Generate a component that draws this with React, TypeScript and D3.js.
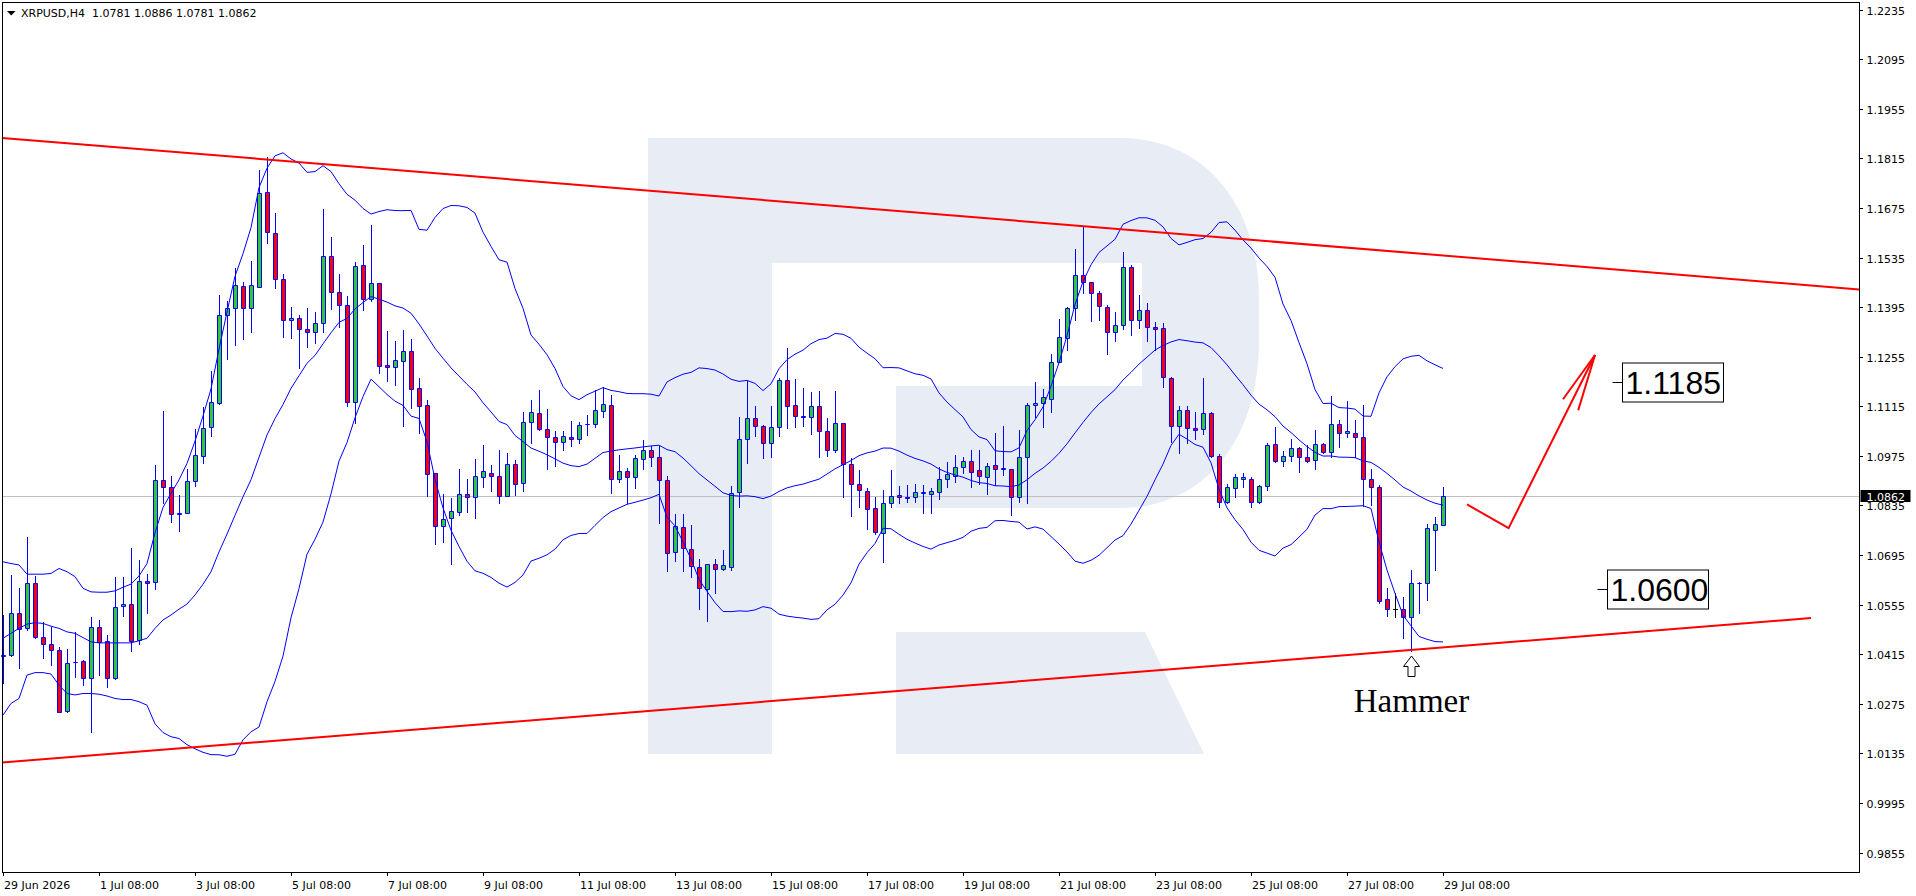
import React from "react";
import * as d3 from "d3";

// ---------- DATA (XRPUSD, H4) ----------
const opens = [
  1.0411,1.0414,1.0530,1.0488,1.0615,1.0464,1.0443,1.0426,1.0255,1.0392,
  1.0396,1.0349,1.0491,1.0452,1.0349,1.0551,1.0558,1.0455,1.0622,1.0618,
  1.0907,1.0886,1.0810,1.0815,1.0903,1.0976,1.1056,1.1125,1.1372,1.1394,
  1.1455,1.1394,1.1453,1.1720,1.1603,1.1474,1.1358,1.1363,1.1332,1.1324,
  1.1349,1.1539,1.1437,1.1401,1.1128,1.1514,1.1417,1.1462,1.1232,1.1225,
  1.1242,1.1271,1.1166,1.1119,1.0926,1.0778,1.0799,1.0817,1.0866,1.0858,
  1.0916,1.0927,1.0918,1.0863,1.0951,1.0899,1.1070,1.1095,1.1050,1.1027,
  1.1015,1.1027,1.1022,1.1064,1.1064,1.1103,1.1120,1.0909,1.0931,1.0914,
  1.0965,1.0993,1.0971,1.0907,1.0704,1.0773,1.0711,1.0662,1.0599,1.0669,
  1.0657,1.0662,1.0872,1.1023,1.1081,1.1059,1.1010,1.1056,1.1189,1.1119,
  1.1089,1.1084,1.1115,1.1044,1.0992,1.1067,1.0951,1.0895,1.0877,1.0827,
  1.0756,1.0841,1.0864,1.0858,1.0858,1.0870,1.0868,1.0874,1.0911,1.0919,
  1.0943,1.0960,1.0935,1.0916,1.0949,1.0940,1.0937,1.0858,1.0973,1.1118,
  1.1123,1.1137,1.1241,1.1307,1.1394,1.1486,1.1465,1.1434,1.1396,1.1324,
  1.1345,1.1509,1.1359,1.1387,1.1338,1.1335,1.1194,1.1060,1.1106,1.1053,
  1.1050,1.1095,1.0975,1.0844,1.0883,1.0911,1.0911,1.0844,1.0890,1.1008,
  1.0960,1.0975,1.0996,1.0971,1.0963,1.1008,1.0985,1.1065,1.1039,1.1041,
  1.1027,1.0911,1.0888,1.0570,1.0542,1.0543,1.0519,1.0615,1.0615,1.0767,
  1.0781
];
const highs = [
  1.0526,1.0638,1.0601,1.0745,1.0636,1.0505,1.0491,1.0436,1.0429,1.0477,
  1.0398,1.0521,1.0511,1.0469,1.0634,1.0634,1.0714,1.0681,1.0641,1.0949,
  1.1102,1.0918,1.0864,1.0937,1.1050,1.1114,1.1216,1.1429,1.1413,1.1506,
  1.1467,1.1525,1.1782,1.1820,1.1662,1.1489,1.1396,1.1373,1.1392,1.1380,
  1.1672,1.1592,1.1490,1.1427,1.1523,1.1570,1.1627,1.1464,1.1328,1.1300,
  1.1330,1.1305,1.1194,1.1133,1.0927,1.0866,1.0855,1.0937,1.0909,1.0965,
  1.1006,1.0949,1.0993,1.0982,1.0963,1.1099,1.1133,1.1161,1.1107,1.1045,
  1.1046,1.1073,1.1072,1.1090,1.1161,1.1170,1.1147,1.0977,1.0940,1.0977,
  1.1020,1.1003,1.1003,1.0918,1.0811,1.0811,1.0780,1.0683,1.0671,1.0683,
  1.0709,1.0890,1.1084,1.1187,1.1116,1.1062,1.1116,1.1194,1.1279,1.1192,
  1.1166,1.1156,1.1159,1.1081,1.1158,1.1067,1.0968,1.0935,1.0883,1.0860,
  1.0879,1.0935,1.0891,1.0893,1.0895,1.0893,1.0885,1.0944,1.0959,1.0977,
  1.0973,1.0993,1.0993,1.0956,1.1039,1.1059,1.0937,1.1048,1.1125,1.1184,
  1.1163,1.1262,1.1361,1.1396,1.1558,1.1624,1.1467,1.1442,1.1401,1.1382,
  1.1552,1.1514,1.1429,1.1408,1.1354,1.1349,1.1199,1.1117,1.1117,1.1100,
  1.1194,1.1098,1.0980,1.0897,1.0924,1.0928,1.0916,1.0893,1.1012,1.1056,
  1.0989,1.1022,1.1001,1.1005,1.1048,1.1010,1.1144,1.1076,1.1131,1.1076,
  1.1119,1.0937,1.0893,1.0601,1.0587,1.0577,1.0654,1.0618,1.0783,1.0803,
  1.0886
];
const lows = [
  1.0333,1.0410,1.0377,1.0483,1.0462,1.0403,1.0384,1.0251,1.0253,1.0351,
  1.0328,1.0196,1.0356,1.0321,1.0344,1.0523,1.0425,1.0445,1.0532,1.0598,
  1.0841,1.0789,1.0764,1.0813,1.0891,1.0956,1.1032,1.1121,1.1250,1.1288,
  1.1305,1.1326,1.1451,1.1575,1.1448,1.1312,1.1307,1.1224,1.1283,1.1295,
  1.1326,1.1390,1.1340,1.1116,1.1069,1.1387,1.1413,1.1210,1.1187,1.1175,
  1.1059,1.1111,1.1040,1.0862,1.0726,1.0733,1.0671,1.0808,1.0817,1.0800,
  1.0888,1.0877,1.0841,1.0862,1.0864,1.0877,1.1012,1.1048,1.0938,1.0946,
  1.0992,1.1003,1.1012,1.1034,1.1057,1.1086,1.0871,1.0902,1.0843,1.0883,
  1.0939,1.0946,1.0786,1.0651,1.0679,1.0651,1.0632,1.0542,1.0509,1.0587,
  1.0654,1.0654,1.0830,1.0956,1.1031,1.0968,1.0973,1.1032,1.1055,1.1057,
  1.1059,1.1036,1.0973,1.0975,1.0987,1.0858,1.0806,1.0831,1.0768,1.0754,
  1.0674,1.0831,1.0843,1.0846,1.0846,1.0815,1.0813,1.0853,1.0888,1.0902,
  1.0926,1.0886,1.0897,1.0867,1.0893,1.0921,1.0808,1.0846,1.0841,1.1086,
  1.1057,1.1098,1.1239,1.1274,1.1359,1.1434,1.1357,1.1359,1.1263,1.1299,
  1.1332,1.1316,1.1337,1.1300,1.1274,1.1170,1.1015,1.0982,1.1012,1.1022,
  1.1037,1.0973,1.0830,1.0841,1.0860,1.0886,1.0830,1.0841,1.0880,1.0959,
  1.0947,1.0961,1.0930,1.0959,1.0937,1.0982,1.0973,1.1001,1.1029,1.0971,
  1.0833,1.0836,1.0560,1.0523,1.0521,1.0462,1.0425,1.0530,1.0568,1.0653,
  1.0781
];
const closes = [
  1.0414,1.0530,1.0485,1.0615,1.0464,1.0444,1.0426,1.0253,1.0389,1.0394,
  1.0349,1.0493,1.0450,1.0349,1.0549,1.0558,1.0453,1.0622,1.0617,1.0907,
  1.0886,1.0810,1.0815,1.0904,1.0977,1.1053,1.1128,1.1373,1.1394,1.1458,
  1.1394,1.1458,1.1718,1.1606,1.1474,1.1358,1.1363,1.1332,1.1324,1.1349,
  1.1539,1.1437,1.1401,1.1128,1.1511,1.1417,1.1462,1.1230,1.1227,1.1246,
  1.1271,1.1163,1.1116,1.0924,1.0778,1.0797,1.0820,1.0866,1.0858,1.0919,
  1.0931,1.0918,1.0863,1.0951,1.0897,1.1070,1.1098,1.1050,1.1027,1.1015,
  1.1030,1.1022,1.1061,1.1066,1.1104,1.1121,1.0909,1.0931,1.0914,1.0968,
  1.0993,1.0971,1.0907,1.0702,1.0777,1.0714,1.0664,1.0601,1.0669,1.0657,
  1.0667,1.0869,1.1024,1.1081,1.1059,1.1010,1.1056,1.1189,1.1116,1.1089,
  1.1084,1.1115,1.1044,1.0992,1.1067,1.0951,1.0895,1.0879,1.0824,1.0759,
  1.0841,1.0862,1.0858,1.0855,1.0872,1.0872,1.0875,1.0911,1.0924,1.0943,
  1.0960,1.0930,1.0919,1.0946,1.0937,1.0938,1.0858,1.0973,1.1118,1.1123,
  1.1140,1.1241,1.1310,1.1394,1.1486,1.1465,1.1434,1.1398,1.1324,1.1346,
  1.1509,1.1359,1.1387,1.1338,1.1334,1.1197,1.1060,1.1106,1.1053,1.1047,
  1.1095,1.0975,1.0844,1.0886,1.0914,1.0914,1.0844,1.0890,1.1005,1.0960,
  1.0975,1.0996,1.0973,1.0961,1.1008,1.0985,1.1065,1.1041,1.1045,1.1027,
  1.0911,1.0888,1.0566,1.0542,1.0542,1.0519,1.0615,1.0617,1.0770,1.0783,
  1.0862
];

// Bollinger band values of the first bars (before a full 20-bar window is on screen)
const bbUpperHead = [1.0676,1.0671,1.0667,1.0641,1.0641,1.0641,1.0643,1.0657,1.0648,1.0634,
  1.0601,1.0591,1.0590,1.0590,1.0594,1.0604,1.0613,1.0636,1.0671];
const bbMidHead = [1.0460,1.0474,1.0488,1.0500,1.0504,1.0502,1.0494,1.0488,1.0478,1.0474,
  1.0462,1.0450,1.0447,1.0447,1.0447,1.0447,1.0447,1.0453,1.0460];
const bbLowerHead = [1.0243,1.0276,1.0290,1.0356,1.0363,1.0363,1.0359,1.0328,1.0304,1.0300,
  1.0304,1.0304,1.0302,1.0297,1.0290,1.0287,1.0287,1.0281,1.0271];

const yTickLabels = ["1.2235","1.2095","1.1955","1.1815","1.1675","1.1535","1.1395","1.1255","1.1115",
  "1.0975","1.0835","1.0695","1.0555","1.0415","1.0275","1.0135","0.9995","0.9855"];
const xTickBars = [0,12,24,36,48,60,72,84,96,108,120,132,144,156,168,180];
const xTickLabels = ["29 Jun 2026","1 Jul 08:00","3 Jul 08:00","5 Jul 08:00","7 Jul 08:00","9 Jul 08:00",
  "11 Jul 08:00","13 Jul 08:00","15 Jul 08:00","17 Jul 08:00","19 Jul 08:00","21 Jul 08:00",
  "23 Jul 08:00","25 Jul 08:00","27 Jul 08:00","29 Jul 08:00"];

const trendUpper = [{ bar: -0.125, price: 1.1873 }, { bar: 232, price: 1.1445 }];
const trendLower = [{ bar: -0.125, price: 1.0109 }, { bar: 226, price: 1.0517 }];
const forecastPath = [{ bar: 183.0, price: 1.0838 }, { bar: 188.2, price: 1.0771 }, { bar: 199.0, price: 1.1260 }];
const forecastBarbs = [{ bar: 195.0, price: 1.1135 }, { bar: 196.9, price: 1.1104 }];
const levelLabels = [
  { text: "1.1185", price: 1.1185, bar: 202.4 },
  { text: "1.0600", price: 1.0600, bar: 200.5 },
];
const hammerBar = 176;
const title = "XRPUSD,H4  1.0781 1.0886 1.0781 1.0862";
const lastPrice = 1.0862;

const BULL = "#32c832";
const BEAR = "#ff0000";
const EDGE = "#0000ff";
const WM = "#e8ecf4";
const UI_FONT = "'DejaVu Sans', Tahoma, sans-serif";

export default function App() {
  const left = 2, right = 1859, top = 2, bottom = 872;
  const x = d3.scaleLinear().domain([-0.125, 232]).range([left, right]);
  const y = d3.scaleLinear().domain([0.98, 1.22567]).range([bottom, top]);
  const n = closes.length;

  const upper: number[] = [], mid: number[] = [], lower: number[] = [];
  for (let i = 0; i < n; i++) {
    if (i < bbMidHead.length) {
      upper.push(bbUpperHead[i]); mid.push(bbMidHead[i]); lower.push(bbLowerHead[i]);
      continue;
    }
    const w = closes.slice(i - 19, i + 1);
    const m = d3.mean(w) as number;
    const sd = Math.sqrt(d3.mean(w, (v) => (v - m) * (v - m)) as number);
    upper.push(m + 2 * sd); mid.push(m); lower.push(m - 2 * sd);
  }
  const bandLine = d3.line<number>().x((_, i) => x(i)).y((v) => y(v));
  const ptLine = d3.line<{ bar: number; price: number }>().x((d) => x(d.bar)).y((d) => y(d.price));

  const candles = closes.map((c, i) => {
    const o = opens[i];
    const cx = Math.round(x(i));
    const yh = Math.round(y(highs[i]));
    const yl = Math.round(y(lows[i]));
    const yt = Math.round(y(Math.max(o, c))) + 0.5;
    const yb = Math.round(y(Math.min(o, c))) + 0.5;
    const doji = o === c;
    const fill = c > o ? BULL : BEAR;
    const col = doji ? "#000" : EDGE;
    return (
      <g key={i}>
        <line x1={cx + 0.5} x2={cx + 0.5} y1={yh} y2={yl + 1} stroke={col} strokeWidth={1} />
        {doji ? (
          <line x1={cx - 2} x2={cx + 3} y1={yt} y2={yt} stroke="#000" strokeWidth={1} />
        ) : (
          <path d={`M${cx - 1.5},${yt}H${cx + 2.5}V${yb}H${cx - 1.5}Z`} fill={fill} stroke={EDGE} strokeWidth={1} />
        )}
      </g>
    );
  });

  const lastY = Math.round(y(lastPrice)) + 0.5;
  const hx = Math.round(x(hammerBar)) + 0.5;
  const hy = Math.round(y(lows[hammerBar]));

  return (
    <svg width={1916} height={896} style={{ display: "block", position: "absolute", left: 0, top: 0, background: "#fff" }}>
      <defs>
        <clipPath id="plot">
          <rect x={left} y={top} width={right - left} height={bottom - top} />
        </clipPath>
      </defs>
      <rect x={0} y={0} width={1916} height={896} fill="#fff" />

      {/* watermark logo */}
      <g fill={WM} clipPath="url(#plot)">
        <rect x={648} y={138} width={124} height={616} />
        <path fillRule="evenodd" d="M772,138 H1120 C1205,138 1259,205 1259,300 V340 C1259,440 1205,508 1120,508 H896 V386 H772 Z M772,263 H1142 V386 H772 Z" />
        <path d="M896,632 H1145 L1204,754 H896 Z" />
      </g>

      {/* current price line */}
      <line x1={left} x2={right} y1={lastY} y2={lastY} stroke="#c0c0c0" strokeWidth={1} />

      <g>{candles}</g>

      {/* Bollinger bands */}
      <g fill="none" stroke="#0000ff" strokeWidth={1} clipPath="url(#plot)">
        <path d={bandLine(upper) as string} />
        <path d={bandLine(mid) as string} />
        <path d={bandLine(lower) as string} />
      </g>

      {/* trend lines */}
      <g fill="none" stroke="#ff0000" strokeWidth={2} clipPath="url(#plot)">
        <path d={ptLine(trendUpper) as string} />
        <path d={ptLine(trendLower) as string} />
        <path d={ptLine(forecastPath) as string} strokeLinejoin="miter" />
        {forecastBarbs.map((b, i) => (
          <path key={i} d={ptLine([forecastPath[2], b]) as string} />
        ))}
      </g>

      {/* level labels */}
      {levelLabels.map((l, i) => {
        const bx = Math.round(x(l.bar)) + 0.5;
        const cy = Math.round(y(l.price)) + 0.5;
        return (
          <g key={i}>
            <line x1={bx - 10} x2={bx} y1={cy} y2={cy} stroke="#000" strokeWidth={1} />
            <rect x={bx} y={cy - 19.5} width={101} height={39} fill="#fff" stroke="#000" strokeWidth={1} />
            <text x={bx + 3} y={cy + 11.5} fontFamily="'Liberation Sans', Arial, sans-serif" fontSize={32} fill="#000">{l.text}</text>
          </g>
        );
      })}

      {/* hammer annotation */}
      <path
        d={`M${hx},${hy + 5} L${hx + 8},${hy + 15.5} H${hx + 3.5} V${hy + 25.5} H${hx - 3.5} V${hy + 15.5} H${hx - 8} Z`}
        fill="#fff" stroke="#000" strokeWidth={1}
      />
      <text x={hx} y={hy + 61} textAnchor="middle" fontFamily="'Liberation Serif', 'Times New Roman', serif" fontSize={33} fill="#000">Hammer</text>

      {/* frame */}
      <rect x={left + 0.5} y={top + 0.5} width={right - left} height={bottom - top} fill="none" stroke="#000" strokeWidth={1} />

      {/* title */}
      <path d="M7,11 H15.5 L11.25,15.5 Z" fill="#000" />
      <text x={21} y={17} fontFamily={UI_FONT} fontSize={11} fill="#000" style={{ whiteSpace: "pre" }}>{title}</text>

      {/* y axis */}
      {yTickLabels.map((t, i) => {
        const ty = Math.round(y(+t)) + 0.5;
        return (
          <g key={i}>
            <line x1={right} x2={right + 4} y1={ty} y2={ty} stroke="#000" strokeWidth={1} />
            <text x={1866.5} y={ty + 4} fontFamily={UI_FONT} fontSize={11} fill="#000">{t}</text>
          </g>
        );
      })}
      <rect x={1860.5} y={lastY - 6.5} width={50} height={12} fill="#000" />
      <text x={1866.5} y={lastY + 4} fontFamily={UI_FONT} fontSize={11} fill="#fff">{lastPrice.toFixed(4)}</text>

      {/* x axis */}
      {xTickBars.map((b, i) => {
        const tx = Math.round(x(b)) + 0.5;
        return (
          <g key={i}>
            <line x1={tx} x2={tx} y1={bottom} y2={bottom + 4} stroke="#000" strokeWidth={1} />
            <text x={tx + 0.5} y={888.5} fontFamily={UI_FONT} fontSize={11} fill="#000">{xTickLabels[i]}</text>
          </g>
        );
      })}
    </svg>
  );
}
